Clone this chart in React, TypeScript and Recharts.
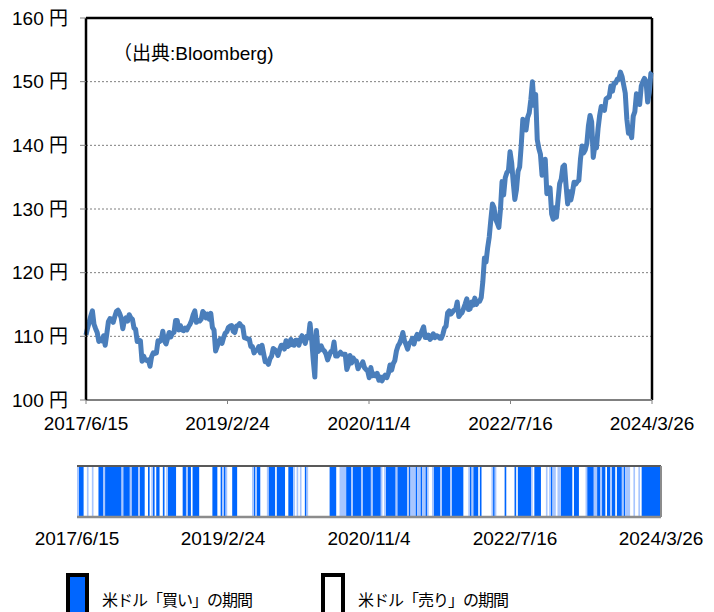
import React from "react";
import { LineChart, Line, XAxis, YAxis, CartesianGrid, ReferenceLine, AreaChart, Area } from "recharts";

const DAY = 86400000;
const toTime = (s: string) => {
  const [y, m, d] = s.split("/").map(Number);
  return Date.UTC(y, m - 1, d);
};

const tickLabels = ["2017/6/15", "2019/2/24", "2020/11/4", "2022/7/16", "2024/3/26"];
const yTicks = [100, 110, 120, 130, 140, 150, 160];

// first Thursday of each weekly block
const weekStarts = ["2017/6/15", "2018/1/4", "2019/1/3", "2020/1/2", "2021/1/7", "2022/1/6", "2023/1/5", "2024/1/4"];

// USD/JPY, weekly
const rate2017 = [110.2, 111.3, 112.2, 113.2, 114.0, 111.9, 111.2, 110.6, 109.2, 109.6, 109.3, 110.1, 108.6, 110.4, 112.3, 112.8, 112.7, 112.2, 113.1, 113.9, 114.1, 113.6, 112.9, 111.2, 112.5, 112.9, 112.4, 113.4, 112.9];
const rate2018 = [112.7, 111.3, 111.1, 109.2, 109.4, 109.3, 106.1, 106.9, 106.3, 106.2, 106.3, 105.3, 106.8, 107.4, 107.3, 107.4, 109.3, 109.2, 109.4, 110.8, 109.3, 108.8, 109.7, 110.6, 109.9, 110.5, 110.6, 112.5, 112.5, 111.0, 111.7, 111.0, 110.9, 111.3, 111.0, 111.5, 111.9, 112.5, 113.4, 114.0, 112.2, 112.5, 112.4, 112.7, 113.9, 113.6, 112.9, 113.5, 112.7, 113.6, 111.4, 111.0];
const rate2019 = [107.7, 108.4, 109.2, 109.6, 108.9, 109.8, 110.5, 110.7, 111.4, 111.6, 111.7, 110.8, 110.6, 111.6, 111.7, 112.0, 111.6, 111.5, 109.8, 109.7, 109.6, 109.6, 108.4, 108.4, 107.4, 107.8, 107.8, 108.4, 107.4, 108.6, 107.3, 106.0, 106.1, 105.6, 106.5, 106.9, 108.1, 107.9, 107.6, 107.0, 107.9, 108.6, 108.6, 108.0, 109.3, 108.4, 108.6, 109.5, 108.7, 108.6, 109.4, 109.4];
const rate2020 = [108.6, 109.5, 110.1, 109.5, 108.9, 110.0, 109.8, 112.0, 109.6, 106.3, 103.6, 110.9, 107.6, 107.9, 108.5, 107.9, 107.7, 107.2, 106.3, 107.0, 107.6, 107.6, 109.1, 106.9, 106.9, 107.2, 107.5, 107.2, 107.2, 107.2, 104.8, 105.5, 107.0, 105.8, 106.6, 106.2, 106.1, 104.9, 105.4, 105.5, 106.0, 105.1, 104.8, 104.6, 103.5, 105.1, 103.8, 104.1, 103.8, 104.2, 103.1, 103.6, 103.0];
const rate2021 = [103.6, 103.9, 103.5, 104.2, 105.5, 104.7, 105.7, 106.2, 107.7, 108.5, 108.9, 109.6, 110.6, 109.3, 108.7, 108.0, 108.9, 109.1, 109.7, 108.8, 109.8, 110.3, 109.6, 110.2, 110.9, 111.5, 109.8, 109.8, 110.2, 109.5, 109.8, 110.4, 109.8, 110.1, 110.0, 109.7, 109.7, 110.3, 111.3, 111.6, 113.7, 114.0, 113.5, 113.8, 114.1, 114.2, 115.4, 113.1, 113.5, 113.7, 114.4, 115.1];
const rate2022 = [115.9, 114.2, 114.3, 115.4, 114.9, 116.0, 115.0, 115.5, 115.5, 116.1, 118.6, 122.3, 121.7, 123.9, 125.6, 128.3, 130.8, 130.2, 128.4, 127.8, 127.1, 129.9, 134.3, 132.2, 134.9, 135.7, 136.0, 139.0, 137.3, 134.2, 131.5, 133.0, 135.9, 136.6, 140.0, 144.1, 143.5, 142.4, 144.4, 145.1, 147.2, 150.0, 146.3, 148.0, 140.9, 139.5, 138.6, 135.3, 136.0, 137.8, 132.4, 133.0];
const rate2023 = [133.3, 129.2, 128.4, 130.2, 128.7, 131.4, 134.0, 134.7, 136.6, 136.9, 133.7, 130.8, 132.7, 131.4, 132.6, 134.2, 133.9, 134.3, 134.5, 137.8, 139.9, 138.8, 139.3, 140.3, 143.1, 144.7, 143.7, 138.1, 139.9, 139.6, 142.6, 144.7, 146.1, 145.8, 145.5, 147.3, 147.5, 147.6, 149.3, 148.5, 149.8, 149.8, 150.4, 150.4, 151.5, 150.8, 149.5, 148.2, 144.1, 141.9, 142.2, 141.2];
const rate2024 = [144.6, 145.3, 148.1, 147.6, 146.4, 149.3, 150.0, 150.5, 150.0, 146.8, 148.3, 151.3];
const lastDate = "2024/3/26";
const lastRate = 151.5;

// buy signal per week: 2 = buy, 1 = buy for part of the week, 0 = sell
const buy2017 = "12220010010002221222222222212";
const buy2018 = "2221222212220020120220020122222000022122022220000000";
const buy2019 = "0222002121000222000000000121220000122220222220022210";
const buy2020 = "10100210000000000000222200111122212222212222212222210";
const buy2021 = "1222222122222212111211211210012222122222122222220001";
const buy2022 = "212220200000012100000200000202222222210222200010121";
const buy2023 = "0112222222022200001222211221220221220222121110010010";
const buy2024 = "222222222222";

const rateBlocks = [rate2017, rate2018, rate2019, rate2020, rate2021, rate2022, rate2023, rate2024];
const buyBlocks = [buy2017, buy2018, buy2019, buy2020, buy2021, buy2022, buy2023, buy2024];

const xTicks = tickLabels.map(toTime);
const tStart = xTicks[0];
const tEnd = toTime(lastDate);
const labelOf = (t: number) => tickLabels[xTicks.indexOf(t)] ?? "";

const rateData = rateBlocks.flatMap((vals, b) =>
  vals.map((v, i) => ({ t: toTime(weekStarts[b]) + i * 7 * DAY, rate: v }))
);
rateData.push({ t: tEnd, rate: lastRate });

const signalData = buyBlocks.flatMap((s, b) =>
  s.split("").map((c, i) => ({
    t: toTime(weekStarts[b]) + i * 7 * DAY,
    full: c === "2" ? 1 : 0,
    light: c === "1" ? 1 : 0,
  }))
);
signalData.push({ ...signalData[signalData.length - 1], t: tEnd });

const font = "'Liberation Sans', Arial, 'Noto Sans CJK JP', sans-serif";
const tickStyle = { fill: "#000", fontSize: 19 };
const legendText = { position: "absolute" as const, top: 589, fontSize: 16, lineHeight: "20px", letterSpacing: "-1px", fontFamily: "'Noto Sans CJK JP', sans-serif", color: "#000" };

export default function App() {
  return (
    <div style={{ position: "absolute", left: 0, top: 0, width: 714, height: 612, overflow: "hidden", background: "#fff", fontFamily: font }}>
      <LineChart width={714} height={440} data={rateData} margin={{ top: 18, right: 62, left: 0, bottom: 0 }}>
        <CartesianGrid vertical={false} stroke="#7f7f7f" strokeDasharray="2 2" />
        <XAxis
          type="number"
          dataKey="t"
          domain={[tStart, tEnd]}
          ticks={xTicks}
          tickFormatter={labelOf}
          interval={0}
          height={40}
          axisLine={{ stroke: "#808080", strokeWidth: 2 }}
          tickLine={{ stroke: "#808080" }}
          tickSize={4}
          tickMargin={13}
          tick={tickStyle}
        />
        <YAxis
          domain={[100, 160]}
          ticks={yTicks}
          interval={0}
          width={86}
          tickFormatter={(v) => `${v}\u00a0円`}
          axisLine={{ stroke: "#000", strokeWidth: 2.5 }}
          tickLine={{ stroke: "#808080" }}
          tickSize={6}
          tickMargin={12}
          tick={tickStyle}
        />
        <ReferenceLine y={160} stroke="#000" strokeWidth={2.5} />
        <ReferenceLine x={tEnd} stroke="#000" strokeWidth={2.5} />
        <Line dataKey="rate" stroke="#4A7EBB" strokeWidth={5} dot={false} strokeLinejoin="round" isAnimationActive={false} />
      </LineChart>

      <div style={{ position: "absolute", left: 113, top: 43, fontSize: 19, lineHeight: "22px" }}>（出典:Bloomberg)</div>

      <div style={{ position: "absolute", left: 0, top: 440 }}>
        <AreaChart width={714} height={120} data={signalData} margin={{ top: 26, right: 53, left: 77, bottom: 0 }}>
          <XAxis
            type="number"
            dataKey="t"
            domain={[tStart, tEnd]}
            ticks={xTicks}
            tickFormatter={labelOf}
            interval={0}
            height={43}
            axisLine={{ stroke: "#8c8c8c", strokeWidth: 2.5 }}
            tickLine={false}
            tickSize={6}
            tickMargin={9}
            tick={tickStyle}
          />
          <YAxis hide domain={[0, 1]} />
          <Area type="stepAfter" dataKey="full" stroke="none" fill="#0066FF" fillOpacity={1} isAnimationActive={false} />
          <Area type="stepAfter" dataKey="light" stroke="none" fill="#A8C6FF" fillOpacity={1} isAnimationActive={false} />
          <ReferenceLine y={1} stroke="#595959" strokeWidth={2} />
          <ReferenceLine x={tEnd} stroke="#8c8c8c" strokeWidth={2} />
        </AreaChart>
      </div>

      <div style={{ position: "absolute", left: 66, top: 573, width: 15, height: 60, border: "4px solid #000", background: "#0066FF" }} />
      <div style={{ ...legendText, left: 102 }}>米ドル「買い」の期間</div>
      <div style={{ position: "absolute", left: 321, top: 573, width: 16, height: 60, border: "4px solid #000", background: "#fff" }} />
      <div style={{ ...legendText, left: 358 }}>米ドル「売り」の期間</div>
    </div>
  );
}
